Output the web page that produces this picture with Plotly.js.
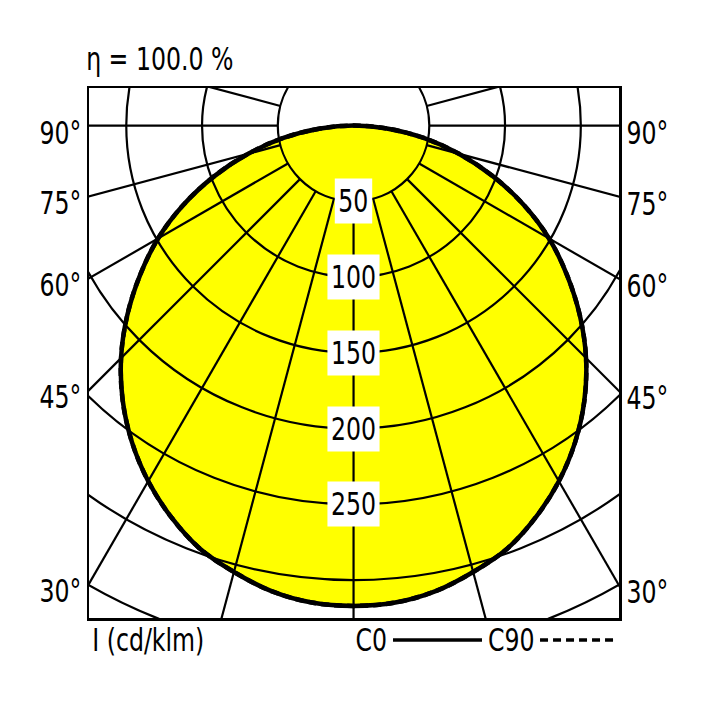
<!DOCTYPE html>
<html>
<head>
<meta charset="utf-8">
<script src="https://cdn.plot.ly/plotly-3.0.1.min.js"></script>
<style>
  html, body { margin: 0; padding: 0; background: #fff; }
  #gd { width: 708px; height: 708px; }
</style>
</head>
<body>
<div id="gd"></div>
<script>
// luminous intensity, cd/klm, every 5 degrees
const gammaDeg = [0, 5, 10, 15, 20, 25, 30, 35, 40, 45, 50, 55, 60, 65, 70, 75, 80, 85, 90];
const iC0  = [317, 316, 312, 305, 297, 285, 271, 255, 237, 217, 195, 172, 149, 124, 98, 72, 47, 22, 0];
const iC90 = [317, 316, 312, 305, 297, 285, 271, 255, 237, 217, 195, 172, 149, 124, 98, 72, 47, 22, 0];

const ringValues = [50, 100, 150, 200, 250, 300, 350];
const ringLabels = ['50', '100', '150', '200', '250'];
const spokeAngles = [0, 15, 30, 45, 60, 75, 90, 105];
const sideAngles = [90, 75, 60, 45, 30];
const effText = 'η = 100.0 %';

const FONT = "'DejaVu Sans Condensed', 'DejaVu Sans', sans-serif";
const SQUEEZE = 0.82;   // the original type is a narrow grotesque
const xMin = -174.6, xMax = 175.2;
const yMin = -325, yMax = 24.8;
const rad = d => d * Math.PI / 180;

// full plane: C0 to the right, mirrored C180 to the left
function planeXY(vals) {
    let xs = [], ys = [];
    for (let k = vals.length - 1; k >= 0; k--) {
        xs.push(-vals[k] * Math.sin(rad(gammaDeg[k])));
        ys.push(-vals[k] * Math.cos(rad(gammaDeg[k])));
    }
    for (let k = 1; k < vals.length; k++) {
        xs.push(vals[k] * Math.sin(rad(gammaDeg[k])));
        ys.push(-vals[k] * Math.cos(rad(gammaDeg[k])));
    }
    return {x: xs, y: ys};
}

const c0 = planeXY(iC0);
const c90 = planeXY(iC90);

let fillTrace = {
    x: c0.x, y: c0.y,
    mode: 'lines',
    fill: 'toself',
    fillcolor: '#ffff00',
    line: {width: 0, shape: 'spline', smoothing: 1},
    hoverinfo: 'skip'
};
let c90Trace = {
    x: c90.x, y: c90.y,
    mode: 'lines',
    line: {color: '#000', width: 4.5, dash: '8px,5px', shape: 'spline', smoothing: 1},
    hoverinfo: 'skip'
};
let c0Trace = {
    x: c0.x, y: c0.y,
    mode: 'lines',
    line: {color: '#000', width: 4.5, shape: 'spline', smoothing: 1},
    hoverinfo: 'skip'
};

let shapes = [];
ringValues.forEach(r => {
    shapes.push({type: 'circle', xref: 'x', yref: 'y', x0: -r, x1: r, y0: -r, y1: r,
        line: {color: '#000', width: 2.2}, layer: 'above'});
});
spokeAngles.forEach(a => {
    [-1, 1].forEach(s => {
        if (a === 0 && s < 0) return;
        shapes.push({type: 'line', xref: 'x', yref: 'y',
            x0: s * 50 * Math.sin(rad(a)), y0: -50 * Math.cos(rad(a)),
            x1: s * 420 * Math.sin(rad(a)), y1: -420 * Math.cos(rad(a)),
            line: {color: '#000', width: 2.2}, layer: 'above'});
    });
});
// legend line samples
shapes.push({type: 'line', xref: 'paper', yref: 'paper', x0: 0.5736, x1: 0.7415, y0: -0.0415, y1: -0.0415,
    line: {color: '#000', width: 3.5}});
shapes.push({type: 'line', xref: 'paper', yref: 'paper', x0: 0.851, x1: 0.996, y0: -0.0415, y1: -0.0415,
    line: {color: '#000', width: 3.5, dash: '8px,5px'}});

const txtFont = {family: FONT, size: 32, color: '#000'};
function paperLabel(x, y, text) {
    return {x: x, y: y, xref: 'paper', yref: 'paper', xanchor: 'center', yanchor: 'middle',
        text: text, showarrow: false, font: txtFont};
}

let annotations = [];
ringLabels.forEach((t, k) => {
    annotations.push({x: 0, y: -ringValues[k], xref: 'x', yref: 'y', text: t, showarrow: false,
        bgcolor: '#fff', borderpad: 3, font: txtFont});
});
sideAngles.forEach(a => {
    const t = Math.tan(rad(a));
    const yl = a === 90 ? 0 : xMin / t;
    const yr = a === 90 ? 0 : -xMax / t;
    annotations.push({x: -0.0547, y: yl, xref: 'paper', yref: 'y', xanchor: 'center', yshift: -7,
        text: a + '°', showarrow: false, font: txtFont});
    annotations.push({x: 1.0547, y: yr, xref: 'paper', yref: 'y', xanchor: 'center', yshift: -7,
        text: a + '°', showarrow: false, font: txtFont});
});
annotations.push(paperLabel(0.134, 1.0547, effText));
annotations.push(paperLabel(0.1123, -0.0415, 'I (cd/klm)'));
annotations.push(paperLabel(0.533, -0.0415, 'C0'));
annotations.push(paperLabel(0.7975, -0.0415, 'C90'));

let axisStyle = {
    showgrid: false, zeroline: false, showticklabels: false, ticks: '',
    showline: true, mirror: true, linecolor: '#000', linewidth: 2.5, fixedrange: true
};

let layout = {
    width: 708, height: 708,
    margin: {l: 89, r: 89, t: 88, b: 90, pad: 0},
    paper_bgcolor: '#fff', plot_bgcolor: '#fff',
    showlegend: false,
    xaxis: Object.assign({range: [xMin, xMax]}, axisStyle),
    yaxis: Object.assign({range: [yMin, yMax]}, axisStyle),
    shapes: shapes,
    annotations: annotations
};

// narrow the annotation text around its centre, and its white box with it
function narrowText(gd) {
    gd.querySelectorAll('g.annotation').forEach(g => {
        const txt = g.querySelector('text.annotation-text');
        if (!txt) return;
        const w = txt.getComputedTextLength();
        const nw = w * SQUEEZE;
        txt.setAttribute('textLength', nw);
        txt.setAttribute('lengthAdjust', 'spacingAndGlyphs');
        const bg = g.querySelector('rect.bg');
        if (bg && bg.getAttribute('width')) {
            const bw = +bg.getAttribute('width');
            const bx = +bg.getAttribute('x');
            bg.setAttribute('width', bw - (w - nw));
            bg.setAttribute('x', bx + (w - nw) / 2);
        }
    });
}

Plotly.newPlot('gd', [fillTrace, c90Trace, c0Trace], layout, {staticPlot: true}).then(narrowText);
</script>
</body>
</html>
